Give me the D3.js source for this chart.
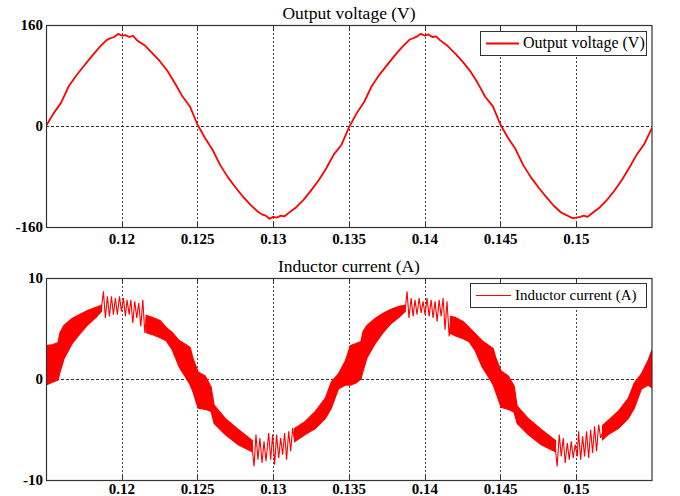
<!DOCTYPE html>
<html>
<head>
<meta charset="utf-8">
<script src="https://cdn.jsdelivr.net/npm/d3@7"></script>
<style>
  html, body { margin: 0; padding: 0; background: #fff; }
  svg { display: block; }
  text { font-family: "Liberation Serif", "Times New Roman", serif; fill: #000; }
</style>
</head>
<body>
<script>
// ---------- DATA ----------
const xDomain = [0.115, 0.155];
const xTicks = [0.12, 0.125, 0.13, 0.135, 0.14, 0.145, 0.15];
const xTickLabels = ["0.12", "0.125", "0.13", "0.135", "0.14", "0.145", "0.15"];
const vTicks = [-160, 0, 160];
const iTicks = [-10, 0, 10];

// Output voltage (V)
const vTime = [
  0.1150, 0.1155, 0.1160, 0.1165, 0.1170, 0.1175, 0.1180, 0.1185, 0.1190, 0.11925, 0.1195, 0.11975,
  0.1200, 0.12025, 0.1205, 0.12075, 0.1210, 0.1215, 0.1220, 0.1225, 0.1230, 0.1235, 0.1240, 0.1245,
  0.1250, 0.1255, 0.1260, 0.1265, 0.1270, 0.1275, 0.1280, 0.1285, 0.1290, 0.12925, 0.1295, 0.12975,
  0.1300, 0.13025, 0.1305, 0.13075, 0.1310, 0.1315, 0.1320, 0.1325, 0.1330, 0.1335, 0.1340, 0.1345,
  0.1350, 0.1355, 0.1360, 0.1365, 0.1370, 0.1375, 0.1380, 0.1385, 0.1390, 0.13925, 0.1395, 0.13975,
  0.1400, 0.14025, 0.1405, 0.14075, 0.1410, 0.1415, 0.1420, 0.1425, 0.1430, 0.1435, 0.1440, 0.1445,
  0.1450, 0.1455, 0.1460, 0.1465, 0.1470, 0.1475, 0.1480, 0.1485, 0.1490, 0.14925, 0.1495, 0.14975,
  0.1500, 0.15025, 0.1505, 0.15075, 0.1510, 0.1515, 0.1520, 0.1525, 0.1530, 0.1535, 0.1540, 0.1545,
  0.1550
];
const vValue = [
  0, 20, 37, 63, 80, 95, 110, 124, 136, 139, 141, 146,
  143, 144, 141, 143, 136, 128, 116, 103, 88, 68, 47, 31,
  2, -19, -38, -62, -81, -97, -112, -125, -136, -140, -142, -147,
  -144, -145, -142, -143, -138, -129, -117, -102, -86, -67, -45, -30,
  -2, 20, 38, 63, 81, 96, 111, 125, 137, 139, 142, 146,
  143, 145, 141, 142, 136, 127, 115, 102, 87, 68, 46, 31,
  2, -19, -37, -62, -81, -97, -112, -126, -137, -140, -143, -146,
  -145, -144, -142, -144, -139, -130, -118, -103, -86, -66, -45, -28,
  -3
];

// Inductor current (A): switching-ripple band (upper / lower envelope), null = gap
const iBandTime = [
  0.11500, 0.11546, 0.11579, 0.11593, 0.11619, 0.11672, 0.11725, 0.11778, 0.11830, 0.11866, null,
  0.12161, 0.12200, 0.12253, 0.12293, 0.12333, 0.12379, 0.12425, 0.12452, 0.12471, 0.12504, 0.12551,
  0.12590, 0.12610, 0.12683, 0.12769, 0.12862, null,
  0.13141, 0.13211, 0.13278, 0.13344, 0.13383, 0.13430, 0.13476, 0.13509,
  0.13546, 0.13579, 0.13593, 0.13619, 0.13672, 0.13725, 0.13778, 0.13830, 0.13872, null,
  0.14170, 0.14200, 0.14253, 0.14293, 0.14333, 0.14379, 0.14425, 0.14452, 0.14471, 0.14504, 0.14551,
  0.14590, 0.14610, 0.14683, 0.14769, 0.14863, null,
  0.15174, 0.15211, 0.15278, 0.15344, 0.15383, 0.15430, 0.15476, 0.15500
];
const iBandHigh = [
  3.3, 3.4, 3.6, 4.6, 5.3, 6.0, 6.4, 6.8, 7.1, 7.3, null,
  6.3, 6.1, 5.8, 5.1, 4.6, 3.8, 3.4, 3.1, 2.0, 0.7, 0.3,
  -0.8, -2.6, -3.9, -5.0, -6.1, null,
  -4.9, -4.2, -3.2, -1.9, -0.3, 0.5, 1.8, 3.3,
  3.5, 3.7, 4.7, 5.3, 6.0, 6.5, 6.9, 7.2, 7.3, null,
  6.2, 6.1, 5.7, 5.1, 4.5, 3.8, 3.3, 3.0, 2.0, 0.8, 0.3,
  -0.7, -2.7, -3.9, -5.0, -6.1, null,
  -4.6, -4.1, -3.2, -1.9, -0.4, 0.5, 1.9, 2.9
];
const iBandLow = [
  -0.6, -0.3, -0.1, 0.7, 2.0, 3.5, 4.5, 5.4, 6.1, 6.7, null,
  4.6, 4.4, 4.1, 3.8, 2.9, 1.2, 0.1, -0.6, -1.3, -2.9, -3.0,
  -3.2, -4.4, -5.5, -6.5, -7.2, null,
  -6.2, -5.5, -4.9, -3.9, -2.9, -1.0, -0.6, -0.6,
  -0.4, 0.0, 0.8, 2.1, 3.5, 4.6, 5.5, 6.1, 6.7, null,
  4.5, 4.3, 4.0, 3.7, 2.8, 1.2, 0.1, -0.6, -1.4, -2.8, -3.0,
  -3.3, -4.4, -5.5, -6.5, -7.2, null,
  -6.0, -5.5, -4.9, -3.9, -2.9, -1.0, -0.6, -0.9
];

// Inductor current (A): oscillating segments near the peaks, null = gap
const iSpikeTime = [
  0.11866, 0.11879, 0.11892, 0.11905, 0.11919, 0.11932, 0.11945, 0.11958, 0.11971, 0.11985, 0.11998,
  0.12011, 0.12024, 0.12035, 0.12049, 0.12060, 0.12073, 0.12086, 0.12099, 0.12112, 0.12126, 0.12139,
  0.12152, 0.12161, null,
  0.12862, 0.12873, 0.12886, 0.12899, 0.12912, 0.12926, 0.12939, 0.12952, 0.12970, 0.12983, 0.12996,
  0.13009, 0.13022, 0.13036, 0.13049, 0.13062, 0.13075, 0.13088, 0.13102, 0.13115, 0.13128, 0.13141, null,
  0.13872, 0.13883, 0.13896, 0.13910, 0.13923, 0.13936, 0.13949, 0.13963, 0.13976, 0.13989, 0.14002,
  0.14015, 0.14029, 0.14042, 0.14055, 0.14068, 0.14082, 0.14095, 0.14108, 0.14121, 0.14134, 0.14147,
  0.14161, 0.14170, null,
  0.14863, 0.14874, 0.14888, 0.14901, 0.14914, 0.14927, 0.14941, 0.14954, 0.14967, 0.14980, 0.14993,
  0.15007, 0.15015, 0.15029, 0.15042, 0.15055, 0.15068, 0.15082, 0.15095, 0.15108, 0.15121, 0.15134,
  0.15148, 0.15161, 0.15174
];
const iSpikeValue = [
  7.0, 8.68, 6.04, 8.18, 6.2, 8.18, 6.37, 8.02, 6.37, 8.18, 6.7,
  8.02, 6.2, 7.85, 6.37, 7.85, 5.54, 7.69, 6.04, 7.53, 5.21, 7.85,
  4.55, 6.04, null,
  -7.0, -8.65, -5.51, -7.99, -5.84, -8.32, -6.17, -8.15, -5.35, -7.99, -5.51,
  -8.48, -5.51, -7.82, -5.84, -7.49, -5.35, -7.99, -5.18, -7.16, -4.85, -6.17, null,
  7.0, 8.68, 6.04, 8.02, 6.2, 7.85, 6.37, 8.02, 6.54, 7.69, 6.37,
  8.02, 6.2, 7.85, 6.04, 7.69, 5.71, 7.85, 6.2, 8.02, 4.88, 7.69,
  4.22, 5.71, null,
  -7.0, -8.65, -5.51, -7.66, -5.84, -8.32, -6.34, -7.99, -6.17, -7.82, -6.5,
  -7.66, -5.18, -7.99, -5.68, -7.66, -5.18, -7.82, -5.02, -7.33, -4.69, -7.16,
  -4.52, -5.84, -5.3
];

// ---------- CHART ----------
const W = 680, H = 496;
const red = "#ff0000";
const axisColor = "#333";
const fontFam = '"Liberation Serif", "Times New Roman", serif';

const svg = d3.select("body").append("svg").attr("width", W).attr("height", H);

const x = d3.scaleLinear().domain(xDomain).range([46, 652]);

function panel(cfg) {
  const y = d3.scaleLinear().domain([cfg.ticks[0], cfg.ticks[2]]).range([cfg.bottom, cfg.top]);
  const g = svg.append("g");
  const clipId = "clip" + cfg.id;
  svg.append("clipPath").attr("id", clipId).append("rect")
    .attr("x", 46).attr("y", cfg.top).attr("width", 606).attr("height", cfg.bottom - cfg.top);

  // grid: vertical dotted lines at x ticks
  g.append("g").selectAll("line").data(xTicks).join("line")
    .attr("x1", d => Math.round(x(d)) + 0.5).attr("x2", d => Math.round(x(d)) + 0.5)
    .attr("y1", cfg.top).attr("y2", cfg.bottom)
    .attr("stroke", "#444").attr("stroke-width", 1).attr("stroke-dasharray", "2,2");
  // horizontal dashed at 0
  g.append("line")
    .attr("x1", 46).attr("x2", 652)
    .attr("y1", Math.round(y(0)) + 0.5).attr("y2", Math.round(y(0)) + 0.5)
    .attr("stroke", "#333").attr("stroke-width", 1).attr("stroke-dasharray", "3,2");

  // tick marks (inward) on top and bottom edges
  const tk = g.append("g");
  xTicks.forEach(d => {
    const px = Math.round(x(d)) + 0.5;
    tk.append("line").attr("x1", px).attr("x2", px).attr("y1", cfg.top).attr("y2", cfg.top + 5)
      .attr("stroke", axisColor);
    tk.append("line").attr("x1", px).attr("x2", px).attr("y1", cfg.bottom).attr("y2", cfg.bottom - 5)
      .attr("stroke", axisColor);
  });

  // data
  const dg = g.append("g").attr("clip-path", `url(#${clipId})`);
  cfg.draw(dg, y);

  // box
  g.append("rect").attr("x", 46.5).attr("y", cfg.top + 0.5)
    .attr("width", 605.5).attr("height", cfg.bottom - cfg.top)
    .attr("fill", "none").attr("stroke", axisColor).attr("stroke-width", 1.2);

  // x tick labels
  g.append("g").selectAll("text").data(xTicks).join("text")
    .attr("x", d => x(d)).attr("y", cfg.bottom + cfg.xLabelDy)
    .attr("text-anchor", "middle").attr("font-size", 15).attr("font-weight", "bold")
    .style("font-family", fontFam)
    .text((d, i) => xTickLabels[i]);

  // y tick labels
  g.append("g").selectAll("text").data(cfg.ticks).join("text")
    .attr("x", 43).attr("y", d => y(d) + 5)
    .attr("text-anchor", "end").attr("font-size", 15).attr("font-weight", "bold")
    .style("font-family", fontFam)
    .text(d => String(d));

  // title
  g.append("text").attr("x", 349).attr("y", cfg.top - 6)
    .attr("text-anchor", "middle").attr("font-size", 17.5)
    .style("font-family", fontFam)
    .text(cfg.title);

  // legend
  const L = cfg.legend;
  g.append("rect").attr("x", L.x + 0.5).attr("y", L.y + 0.5).attr("width", L.w).attr("height", L.h)
    .attr("fill", "#fff").attr("stroke", axisColor).attr("stroke-width", 1);
  g.append("line").attr("x1", L.x + 6).attr("x2", L.x + 6 + L.lineLen)
    .attr("y1", L.y + L.h / 2 + 0.5).attr("y2", L.y + L.h / 2 + 0.5)
    .attr("stroke", red).attr("stroke-width", L.lw);
  g.append("text").attr("x", L.x + 10 + L.lineLen).attr("y", L.y + L.h / 2 + 5)
    .attr("font-size", L.fs).style("font-family", fontFam)
    .text(cfg.title);
}

// top panel: voltage
panel({
  id: 1, top: 25, bottom: 227, ticks: vTicks, title: "Output voltage (V)", xLabelDy: 17,
  legend: { x: 480, y: 31, w: 166, h: 24, lineLen: 33, lw: 2, fs: 16 },
  draw: (g, y) => {
    const pts = vTime.map((t, i) => [t, vValue[i]]);
    g.append("path").datum(pts)
      .attr("d", d3.line().x(d => x(d[0])).y(d => y(d[1])))
      .attr("fill", "none").attr("stroke", red).attr("stroke-width", 1.8)
      .attr("stroke-linejoin", "round");
  }
});

// bottom panel: current
panel({
  id: 2, top: 278, bottom: 480, ticks: iTicks, title: "Inductor current (A)", xLabelDy: 14,
  legend: { x: 470, y: 283, w: 176, h: 24, lineLen: 35, lw: 1, fs: 15 },
  draw: (g, y) => {
    const band = iBandTime.map((t, i) => ({ t, hi: iBandHigh[i], lo: iBandLow[i] }));
    g.append("path").datum(band)
      .attr("d", d3.area().defined(d => d.t !== null)
        .x(d => x(d.t)).y0(d => y(d.lo)).y1(d => y(d.hi)))
      .attr("fill", red).attr("stroke", red).attr("stroke-width", 1.2);
    const sp = iSpikeTime.map((t, i) => ({ t, v: iSpikeValue[i] }));
    g.append("path").datum(sp)
      .attr("d", d3.line().defined(d => d.t !== null).x(d => x(d.t)).y(d => y(d.v)))
      .attr("fill", "none").attr("stroke", red).attr("stroke-width", 1.1);
  }
});
</script>
</body>
</html>
